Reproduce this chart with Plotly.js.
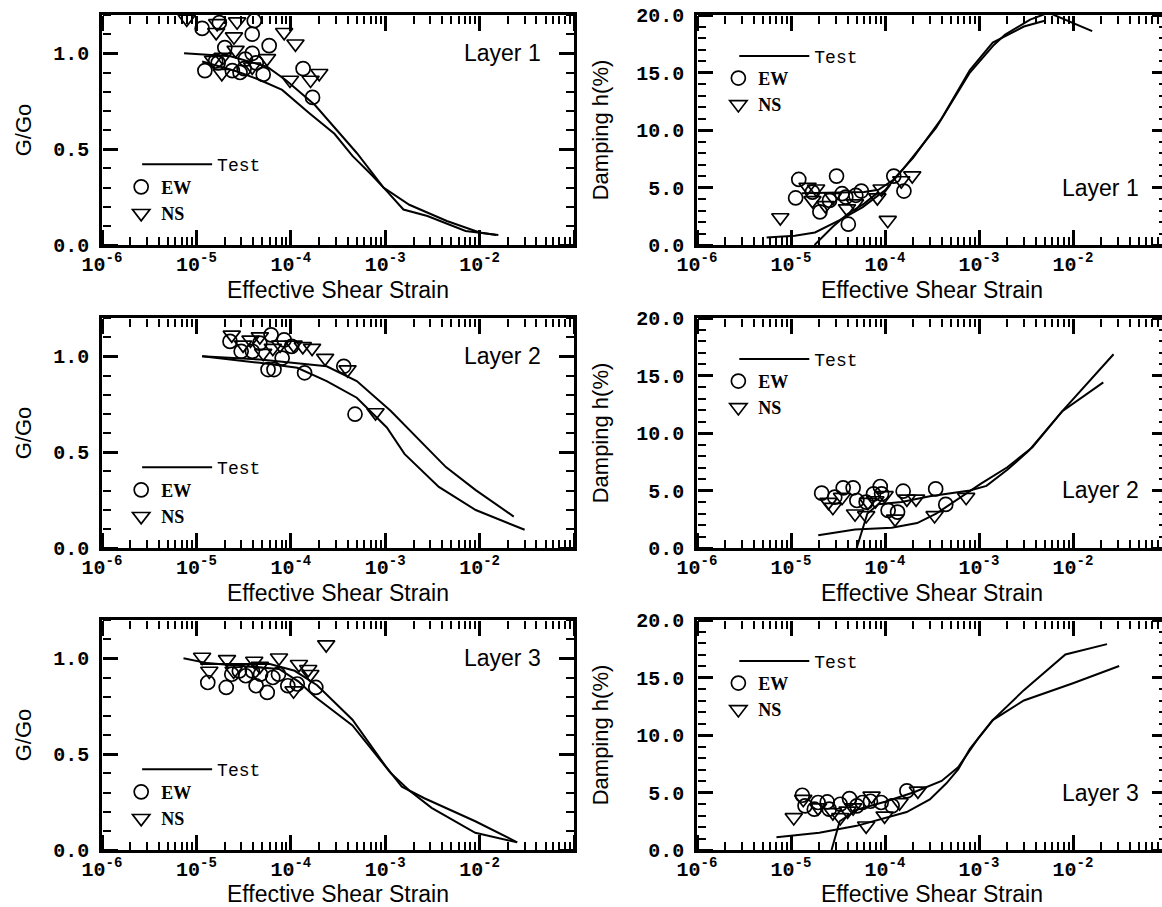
<!DOCTYPE html>
<html>
<head>
<meta charset="utf-8">
<script src="https://cdn.plot.ly/plotly-3.0.1.min.js"></script>
<style>
html, body { margin:0; padding:0; overflow:hidden; background:#fff; }
#chart { width:1180px; height:907px; }
</style>
</head>
<body>
<div id="chart"></div>
<script>
// ---------- Data ----------
const layerLabels = ['Layer 1', 'Layer 2', 'Layer 3'];
const xTitle = 'Effective Shear Strain';
const gTitle = 'G/Go';
const dTitle = 'Damping h(%)';
const xTickVals = [1e-6, 1e-5, 1e-4, 1e-3, 1e-2];
const xTickText = ['10<sup>-6</sup>', '10<sup>-5</sup>', '10<sup>-4</sup>', '10<sup>-3</sup>', '10<sup>-2</sup>'];

// Layer 1, G/Go
const L1G_testA_x = [7.4e-6, 2.3e-5, 5.6e-5, 8.9e-5, 1.8e-4, 5e-4, 9.6e-4, 1.8e-3, 4.5e-3, 1e-2, 1.5e-2];
const L1G_testA_y = [1.0, 0.985, 0.93, 0.86, 0.73, 0.48, 0.30, 0.21, 0.125, 0.065, 0.052];
const L1G_testB_x = [1.15e-5, 2.7e-5, 4.7e-5, 8.1e-5, 1.55e-4, 2.9e-4, 4.5e-4, 7.2e-4, 1.04e-3, 1.56e-3, 2.8e-3, 7.1e-3, 1.58e-2];
const L1G_testB_y = [0.957, 0.905, 0.861, 0.809, 0.69, 0.58, 0.465, 0.365, 0.281, 0.185, 0.151, 0.073, 0.052];
const L1G_EW_x = [1.15e-5, 1.75e-5, 4.1e-5, 3.9e-5, 5.9e-5, 2.0e-5, 1.23e-5, 1.6e-5, 2.9e-5, 3.9e-5, 4.3e-5, 5.1e-5, 1.35e-4, 1.7e-4, 2.4e-5, 3.3e-5, 1.7e-5, 3.2e-5];
const L1G_EW_y = [1.13, 1.16, 1.17, 1.10, 1.04, 1.03, 0.91, 0.96, 0.90, 1.00, 0.95, 0.89, 0.92, 0.77, 0.91, 0.97, 0.95, 0.92];
const L1G_NS_x = [7.9e-6, 1.66e-5, 1.62e-5, 2.7e-5, 2.5e-5, 2.6e-5, 1.9e-5, 1.86e-5, 3.9e-5, 5.6e-5, 8.5e-5, 1.12e-4, 9.8e-5, 1.62e-4, 2.0e-4, 1.5e-5];
const L1G_NS_y = [1.18, 1.156, 1.11, 1.165, 1.087, 1.017, 0.98, 0.896, 0.93, 0.974, 1.11, 1.05, 0.861, 0.861, 0.896, 0.965];

// Layer 1, damping
const L1D_testA_x = [5.5e-6, 1.1e-5, 1.8e-5, 3.3e-5, 5.8e-5, 1e-4, 1.56e-4, 3.5e-4, 8e-4, 1.44e-3, 1.9e-3, 3.5e-3, 5.5e-3, 1.6e-2];
const L1D_testA_y = [0.66, 0.8, 1.09, 2.16, 3.3, 4.75, 6.6, 10.2, 15.0, 17.4, 18.3, 19.6, 20.2, 18.6];
const L1D_testB_x = [1.3e-5, 3e-5, 6e-5, 8.5e-5, 1.2e-4, 2e-4, 4e-4, 8e-4, 1.4e-3, 3e-3, 5e-3];
const L1D_testB_y = [4.5, 4.55, 4.6, 4.8, 5.6, 7.6, 11.0, 15.2, 17.6, 19.0, 19.5];
const L1D_testC_x = [1.78e-5, 2.8e-5, 4e-5, 6e-5, 8.5e-5];
const L1D_testC_y = [0.0, 1.6, 2.7, 3.6, 4.6];
const L1D_EW_x = [1.21e-5, 1.12e-5, 1.69e-5, 2.03e-5, 3.05e-5, 3.49e-5, 3.83e-5, 4.07e-5, 4.89e-5, 5.6e-5, 1.24e-4, 1.59e-4, 2.57e-5];
const L1D_EW_y = [5.70, 4.09, 4.60, 2.88, 5.99, 4.46, 4.17, 1.81, 4.32, 4.69, 5.99, 4.69, 3.88];
const L1D_NS_x = [7.7e-6, 1.5e-5, 1.69e-5, 1.85e-5, 2.32e-5, 2.79e-5, 3.94e-5, 4.8e-5, 8.3e-5, 9.2e-5, 1.07e-4, 1.49e-4, 1.95e-4];
const L1D_NS_y = [2.39, 5.04, 3.88, 4.89, 3.45, 4.17, 3.17, 3.6, 4.12, 4.89, 2.16, 5.61, 6.04];

// Layer 2, G/Go
const L2G_testA_x = [1.15e-5, 4.7e-5, 2.4e-4, 5e-4, 1.14e-3, 2.15e-3, 4.4e-3, 9.1e-3, 2.3e-2];
const L2G_testA_y = [1.0, 0.983, 0.948, 0.871, 0.716, 0.578, 0.422, 0.302, 0.164];
const L2G_testB_x = [1.15e-5, 4.7e-5, 1.17e-4, 2.4e-4, 5e-4, 1.04e-3, 1.6e-3, 3.7e-3, 9.1e-3, 3e-2];
const L2G_testB_y = [1.0, 0.966, 0.94, 0.871, 0.784, 0.629, 0.491, 0.319, 0.198, 0.095];
const L2G_EW_x = [2.27e-5, 2.98e-5, 4.7e-5, 6.18e-5, 8.5e-5, 5.74e-5, 6.64e-5, 8.1e-5, 1.02e-4, 1.4e-4, 3.64e-4, 4.79e-4, 3.92e-5];
const L2G_EW_y = [1.078, 1.026, 1.069, 1.112, 1.086, 0.931, 0.931, 0.991, 1.052, 0.914, 0.948, 0.698, 1.026];
const L2G_NS_x = [2.37e-5, 3.12e-5, 3.74e-5, 4.7e-5, 6.45e-5, 7.7e-5, 1.07e-4, 1.34e-4, 1.68e-4, 2.31e-4, 3.99e-4, 7.9e-4, 5.1e-5];
const L2G_NS_y = [1.112, 1.06, 1.086, 1.103, 1.043, 1.06, 1.06, 1.052, 1.043, 0.991, 0.931, 0.707, 1.017];

// Layer 2, damping
const L2D_testA_x = [1.95e-5, 4.8e-5, 1.18e-4, 2.2e-4, 3.5e-4, 7.3e-4, 1.04e-3, 2e-3, 3.7e-3, 7.7e-3, 2.7e-2];
const L2D_testA_y = [1.1, 1.6, 1.76, 2.17, 2.98, 4.71, 5.58, 7.02, 8.76, 11.9, 16.85];
const L2D_testB_x = [5e-5, 6.5e-5, 8.5e-5, 1.5e-4, 3e-4, 8e-4, 1.2e-3, 2e-3, 3.4e-3, 7.7e-3, 2.1e-2];
const L2D_testB_y = [0.0, 3.0, 3.8, 4.0, 4.5, 5.0, 5.4, 6.8, 8.47, 11.9, 14.4];
const L2D_EW_x = [2.12e-5, 2.92e-5, 3.59e-5, 4.58e-5, 5.02e-5, 6.3e-5, 7.55e-5, 8.9e-5, 9.2e-5, 1.08e-4, 1.36e-4, 1.56e-4, 3.46e-4, 4.43e-4];
const L2D_EW_y = [4.77, 4.42, 5.23, 5.23, 4.13, 3.99, 4.71, 5.35, 4.71, 3.27, 3.12, 4.94, 5.14, 3.79];
const L2D_NS_x = [2.5e-5, 2.79e-5, 3.49e-5, 4.8e-5, 6.3e-5, 6.59e-5, 7.9e-5, 9.9e-5, 1.28e-4, 1.71e-4, 2.14e-4, 3.37e-4, 7.3e-4];
const L2D_NS_y = [3.99, 3.55, 4.42, 2.98, 2.83, 3.99, 4.13, 4.57, 2.54, 4.28, 4.28, 2.83, 4.42];

// Layer 3, G/Go
const L3G_testA_x = [7.3e-6, 1.3e-5, 4e-5, 7.5e-5, 1.2e-4, 1.8e-4, 4.5e-4, 1.15e-3, 1.8e-3, 3.1e-3, 9e-3, 2.5e-2];
const L3G_testA_y = [1.0, 0.975, 0.955, 0.945, 0.88, 0.80, 0.65, 0.40, 0.31, 0.22, 0.09, 0.04];
const L3G_testB_x = [1.1e-5, 6e-5, 1.1e-4, 1.9e-4, 4.5e-4, 1e-3, 1.5e-3, 2.6e-3, 9e-3, 2.5e-2];
const L3G_testB_y = [0.97, 0.97, 0.935, 0.86, 0.68, 0.44, 0.33, 0.27, 0.15, 0.04];
const L3G_EW_x = [1.32e-5, 2.07e-5, 2.37e-5, 2.85e-5, 3.33e-5, 4.29e-5, 4.78e-5, 5.63e-5, 6.45e-5, 7.4e-5, 9.3e-5, 1.17e-4, 1.84e-4, 3.92e-5];
const L3G_EW_y = [0.874, 0.848, 0.917, 0.934, 0.909, 0.857, 0.917, 0.822, 0.90, 0.917, 0.857, 0.866, 0.848, 0.934];
const L3G_NS_x = [1.15e-5, 1.37e-5, 2.11e-5, 2.48e-5, 4.1e-5, 4.7e-5, 7.5e-5, 1.07e-4, 1.22e-4, 1.53e-4, 1.61e-4, 2.37e-4];
const L3G_NS_y = [1.007, 0.934, 0.995, 0.934, 0.986, 0.96, 1.003, 0.831, 0.969, 0.943, 0.917, 1.072];

// Layer 3, damping
const L3D_testA_x = [7e-6, 2e-5, 5e-5, 1e-4, 1.7e-4, 3e-4, 4.5e-4, 6e-4, 8e-4, 1.4e-3, 3e-3, 8.3e-3, 2.3e-2];
const L3D_testA_y = [1.1, 1.5, 2.1, 2.8, 3.3, 4.4, 5.8, 7.0, 8.8, 11.3, 13.9, 17.0, 17.9];
const L3D_testB_x = [2.7e-5, 3.3e-5, 5e-5, 1e-4, 2e-4, 4e-4, 6e-4, 1e-3, 1.4e-3, 3e-3, 1e-2, 3.1e-2];
const L3D_testB_y = [0.0, 2.5, 3.5, 4.2, 5.0, 6.0, 7.2, 9.8, 11.3, 13.0, 14.5, 16.0];
const L3D_EW_x = [1.32e-5, 1.41e-5, 1.94e-5, 2.43e-5, 2.55e-5, 3.34e-5, 4.19e-5, 5.02e-5, 5.75e-5, 7.0e-5, 9.1e-5, 1.19e-4, 1.71e-4, 1.77e-5];
const L3D_EW_y = [4.76, 3.84, 4.13, 4.18, 3.55, 3.98, 4.47, 3.84, 4.13, 4.24, 4.13, 3.84, 5.14, 3.55];
const L3D_NS_x = [1.07e-5, 1.35e-5, 1.94e-5, 2.79e-5, 3.34e-5, 4.58e-5, 6.3e-5, 7.2e-5, 9.9e-5, 1.43e-4, 2.24e-4, 4.0e-5];
const L3D_NS_y = [2.83, 4.42, 3.69, 3.26, 2.83, 3.69, 2.11, 4.7, 2.97, 4.13, 5.14, 3.41];

// ---------- Build ----------
const W = 1180, H = 907;
const colPx = [[102, 574], [697, 1167]];
const rowPx = [[15, 245], [318, 548], [620, 850]];

const panels = [
  {row:0, col:0, kind:'G', lines:[[L1G_testA_x, L1G_testA_y], [L1G_testB_x, L1G_testB_y]], EW:[L1G_EW_x, L1G_EW_y], NS:[L1G_NS_x, L1G_NS_y]},
  {row:0, col:1, kind:'D', lines:[[L1D_testA_x, L1D_testA_y], [L1D_testB_x, L1D_testB_y], [L1D_testC_x, L1D_testC_y]], EW:[L1D_EW_x, L1D_EW_y], NS:[L1D_NS_x, L1D_NS_y]},
  {row:1, col:0, kind:'G', lines:[[L2G_testA_x, L2G_testA_y], [L2G_testB_x, L2G_testB_y]], EW:[L2G_EW_x, L2G_EW_y], NS:[L2G_NS_x, L2G_NS_y]},
  {row:1, col:1, kind:'D', lines:[[L2D_testA_x, L2D_testA_y], [L2D_testB_x, L2D_testB_y]], EW:[L2D_EW_x, L2D_EW_y], NS:[L2D_NS_x, L2D_NS_y]},
  {row:2, col:0, kind:'G', lines:[[L3G_testA_x, L3G_testA_y], [L3G_testB_x, L3G_testB_y]], EW:[L3G_EW_x, L3G_EW_y], NS:[L3G_NS_x, L3G_NS_y]},
  {row:2, col:1, kind:'D', lines:[[L3D_testA_x, L3D_testA_y], [L3D_testB_x, L3D_testB_y]], EW:[L3D_EW_x, L3D_EW_y], NS:[L3D_NS_x, L3D_NS_y]}
];

const monoFont = 'Liberation Mono, Courier New, monospace';
const sansFont = 'Liberation Sans, Arial, Helvetica, sans-serif';
const traces = [];
const layout = {
  width: W, height: H,
  margin: {l:0, r:0, t:0, b:0},
  paper_bgcolor: '#fff', plot_bgcolor: 'rgba(0,0,0,0)',
  showlegend: true,
  annotations: []
};

// tick-only helper axes: outside ticks on a free axis placed at the opposite edge = ticks pointing into the frame
function tickAxisX(base, pos, side) {
  return {
    type:'log', range:[-6, -1], overlaying:base, anchor:'free', position:pos, side:side,
    dtick:1, showticklabels:false, showline:false, showgrid:false, zeroline:false,
    ticks:'outside', ticklen:15, tickwidth:2.5, tickcolor:'#000',
    minor:{dtick:'D1', ticks:'outside', ticklen:8, tickwidth:2, tickcolor:'#000', showgrid:false}
  };
}
function tickAxisY(base, pos, side, isG) {
  return {
    range: isG ? [0, 1.2] : [0, 20], overlaying:base, anchor:'free', position:pos, side:side,
    dtick: isG ? 0.5 : 5, showticklabels:false, showline:false, showgrid:false, zeroline:false,
    ticks:'outside', ticklen:15, tickwidth:2.5, tickcolor:'#000',
    minor:{dtick: isG ? 0.1 : 1, ticks:'outside', ticklen:8, tickwidth:2, tickcolor:'#000', showgrid:false}
  };
}

panels.forEach((p, i) => {
  const n = i + 1;
  const xs = n === 1 ? '' : String(n);
  const xName = 'x' + xs, yName = 'y' + xs;
  const cx = colPx[p.col], ry = rowPx[p.row];
  const xDom = [cx[0] / W, cx[1] / W];
  const yDom = [1 - ry[1] / H, 1 - ry[0] / H];
  const isG = p.kind === 'G';
  const legT = 'legend' + (2 * i + 1 === 1 ? '' : String(2 * i + 1));
  const legM = 'legend' + String(2 * i + 2);

  layout['xaxis' + xs] = {
    type:'log', range:[-6, -1], domain:xDom, anchor:yName,
    tickmode:'array', tickvals:xTickVals, ticktext:xTickText,
    showline:true, linewidth:2.5, linecolor:'#000', mirror:true,
    ticks:'', showgrid:false, zeroline:false, ticklabelstandoff:-1,
    tickfont:{family:monoFont, size:20, color:'#000', weight:'bold'},
    title:{text:xTitle, font:{family:sansFont, size:23, color:'#000'}, standoff:0}
  };
  layout['yaxis' + xs] = {
    range: isG ? [0, 1.2] : [0, 20], domain:yDom, anchor:xName,
    dtick: isG ? 0.5 : 5, tickformat:'.1f',
    showline:true, linewidth:2.5, linecolor:'#000', mirror:true,
    ticks:'', showgrid:false, zeroline:false, ticklabelstandoff: 6,
    tickfont:{family:monoFont, size:20, color:'#000', weight:'bold'},
    title:{text: isG ? gTitle : dTitle, font:{family:sansFont, size:22, color:'#000'}, standoff: isG ? 16 : 22}
  };

  // helper tick axes
  const xb = 7 + 2 * i, xt = 8 + 2 * i;
  layout['xaxis' + xb] = tickAxisX(xName, yDom[0], 'top');
  layout['xaxis' + xt] = tickAxisX(xName, yDom[1], 'bottom');
  layout['yaxis' + xb] = tickAxisY(yName, xDom[0], 'right', isG);
  layout['yaxis' + xt] = tickAxisY(yName, xDom[1], 'left', isG);
  [xb, xt].forEach(k => {
    traces.push({type:'scatter', mode:'lines', x:[], y:[], xaxis:'x' + k, yaxis:yName, showlegend:false, hoverinfo:'skip'});
    traces.push({type:'scatter', mode:'lines', x:[], y:[], xaxis:xName, yaxis:'y' + k, showlegend:false, hoverinfo:'skip'});
  });

  const lineStyle = {color:'#000', width:2};
  p.lines.forEach((ln, k) => {
    traces.push({x:ln[0], y:ln[1], xaxis:xName, yaxis:yName, mode:'lines', line:lineStyle, name:'Test', legend:legT, showlegend:k === 0});
  });
  traces.push({x:p.EW[0], y:p.EW[1], xaxis:xName, yaxis:yName, mode:'markers', name:'EW', legend:legM,
    marker:{symbol:'circle-open', size:14, color:'#000', line:{width:1.7, color:'#000'}}});
  traces.push({x:p.NS[0], y:p.NS[1], xaxis:xName, yaxis:yName, mode:'markers', name:'NS', legend:legM,
    marker:{symbol:'triangle-down-open', size:15, color:'#000', line:{width:1.7, color:'#000'}}});

  const pw = cx[1] - cx[0], ph = ry[1] - ry[0];
  const tFracY = isG ? 0.35 : 0.82;
  const mFracY = isG ? 0.195 : 0.668;
  const lineStartPx = cx[0] + (isG ? 0.085 : 0.09) * pw;
  const symCenterPx = cx[0] + (isG ? 0.083 : 0.088) * pw;
  const bottomPaper = 1 - ry[1] / H;
  layout[legT] = {
    x:(lineStartPx - 5) / W, y: bottomPaper + tFracY * ph / H, xanchor:'left', yanchor:'middle',
    bgcolor:'rgba(0,0,0,0)', borderwidth:0, itemwidth:70, tracegroupgap:0,
    font:{family:monoFont, size:18, color:'#000'}
  };
  layout[legM] = {
    x:(symCenterPx - 20) / W, y: bottomPaper + mFracY * ph / H, xanchor:'left', yanchor:'middle',
    bgcolor:'rgba(0,0,0,0)', borderwidth:0, itemwidth:30, tracegroupgap:0,
    font:{family:'Liberation Serif, Times New Roman, serif', size:18, color:'#000', weight:'bold'}
  };

  layout.annotations.push({
    text: layerLabels[p.row], xref: xName + ' domain', yref: yName,
    x: isG ? 0.934 : 0.945, y: isG ? 1.0 : 5.0, xanchor:'right', yanchor:'middle', showarrow:false,
    font:{family:sansFont, size:23, color:'#000'}
  });
});

Plotly.newPlot('chart', traces, layout, {displayModeBar:false});
</script>
</body>
</html>
